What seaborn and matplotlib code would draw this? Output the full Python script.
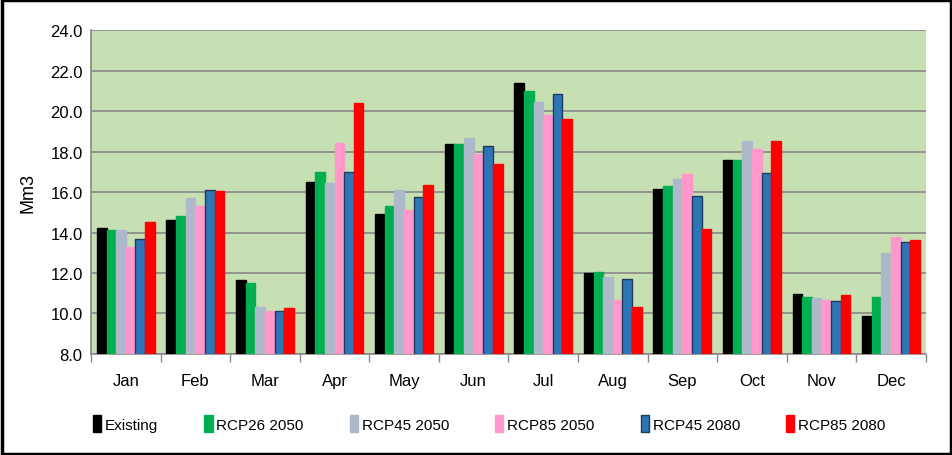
import matplotlib
matplotlib.use('Agg')
import matplotlib.pyplot as plt
import numpy as np
import pandas as pd
import seaborn as sns

months = ['Jan', 'Feb', 'Mar', 'Apr', 'May', 'Jun', 'Jul', 'Aug', 'Sep', 'Oct', 'Nov', 'Dec']
scenarios = ['Existing', 'RCP26 2050', 'RCP45 2050', 'RCP85 2050', 'RCP45 2080', 'RCP85 2080']

existing   = [14.2, 14.6, 11.65, 16.5, 14.9, 18.35, 21.4, 12.0, 16.15, 17.6, 10.95, 9.9]
rcp26_2050 = [14.1, 14.8, 11.5, 17.0, 15.3, 18.35, 21.0, 12.05, 16.3, 17.6, 10.8, 10.8]
rcp45_2050 = [14.1, 15.7, 10.3, 16.45, 16.1, 18.65, 20.45, 11.8, 16.65, 18.5, 10.75, 13.0]
rcp85_2050 = [13.3, 15.3, 10.1, 18.4, 15.1, 17.9, 19.8, 10.65, 16.9, 18.1, 10.65, 13.8]
rcp45_2080 = [13.7, 16.1, 10.1, 17.0, 15.75, 18.25, 20.85, 11.7, 15.8, 16.95, 10.6, 13.55]
rcp85_2080 = [14.5, 16.05, 10.25, 20.4, 16.35, 17.4, 19.6, 10.3, 14.15, 18.5, 10.9, 13.65]

colors = ['#000000', '#00B050', '#ADB9CA', '#FF99CC', '#2E75B6', '#FF0000']
edges = ['#000000', '#00B050', '#ADB9CA', '#FF99CC', '#1F3A5F', '#FF0000']

series = [existing, rcp26_2050, rcp45_2050, rcp85_2050, rcp45_2080, rcp85_2080]
rows = []
for name, vals in zip(scenarios, series):
    for m, v in zip(months, vals):
        rows.append({'Month': m, 'Scenario': name, 'Mm3': v})
df = pd.DataFrame(rows)

plt.rcParams['font.family'] = ['Liberation Sans', 'DejaVu Sans']

fig = plt.figure(figsize=(9.53, 4.56), dpi=100)
ax = fig.add_axes([0.0955, 0.2215, 0.876, 0.7105])
ax.set_facecolor('#C6E0B4')

sns.barplot(data=df, x='Month', y='Mm3', hue='Scenario', order=months, hue_order=scenarios,
            palette=colors, saturation=1, width=0.83, gap=0, ax=ax, legend=True, zorder=3)

# bar edges per series
for cont, ec in zip(ax.containers, edges):
    for b in cont:
        b.set_edgecolor(ec)
        b.set_linewidth(1.0)

ax.set_ylim(8, 24)
ax.set_yticks(np.arange(8, 24.1, 2))
ax.set_yticklabels([f'{t:.1f}' for t in np.arange(8, 24.1, 2)], fontsize=12)
ax.set_xlim(-0.5, 11.5)
ax.grid(axis='y', color='#888888', linewidth=1.2, zorder=0)
ax.set_axisbelow(True)
ax.tick_params(axis='y', length=0, pad=6)
ax.tick_params(axis='x', which='major', length=0, labelsize=12, pad=14)
ax.set_xticks(np.arange(-0.5, 12, 1), minor=True)
ax.tick_params(axis='x', which='minor', length=6, color='#888888', width=1)
ax.set_xlabel('')
ax.set_ylabel('Mm3', fontsize=13, labelpad=10)
for s in ['top', 'right']:
    ax.spines[s].set_visible(False)
for s in ['left', 'bottom']:
    ax.spines[s].set_color('#888888')
    ax.spines[s].set_linewidth(1.2)

handles, labels = ax.get_legend_handles_labels()
for h, ec in zip(handles, edges):
    h.set_edgecolor(ec)
ax.legend(handles, labels, loc='center', bbox_to_anchor=(0.477, -0.215), ncol=6, frameon=False,
          fontsize=11, handlelength=0.55, handleheight=1.3, handletextpad=0.25, columnspacing=3.0)

# outer border of the chart
fig.patches.append(plt.Rectangle((0.002, 0.003), 0.996, 0.994, transform=fig.transFigure,
                                 fill=False, edgecolor='#000000', linewidth=2.5))

fig.savefig('out.png', dpi=100)
